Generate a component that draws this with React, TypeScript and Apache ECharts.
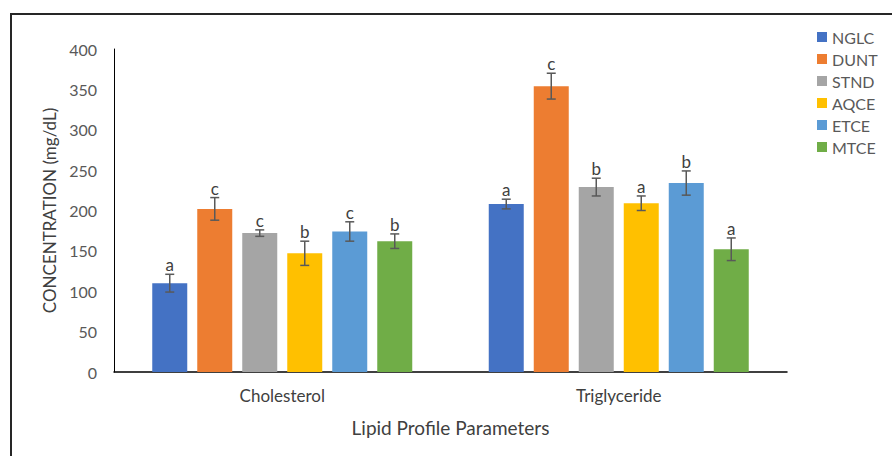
import React, { useEffect, useRef } from "react";
import * as echarts from "echarts";

const categories = ["Cholesterol", "Triglyceride"];
const seriesNames = ["NGLC", "DUNT", "STND", "AQCE", "ETCE", "MTCE"];
const colors = ["#4472C4", "#ED7D31", "#A5A5A5", "#FFC000", "#5B9BD5", "#70AD47"];
const means = [
  [110, 208],
  [202, 354],
  [172, 229],
  [147, 209],
  [174, 234],
  [162, 152],
];
const errors = [
  [11, 6],
  [14, 16],
  [4, 11],
  [15, 9],
  [12, 15],
  [9, 14],
];
const letters = [
  ["a", "a"],
  ["c", "c"],
  ["c", "b"],
  ["b", "a"],
  ["c", "b"],
  ["b", "a"],
];
const yTicks = { min: 0, max: 400, interval: 50 };

const FONT = "Lato, 'Open Sans', sans-serif";
const BAR_W = 35;
const BAR_GAP = 10;

export default function App() {
  const ref = useRef<HTMLDivElement>(null);
  useEffect(() => {
    if (!ref.current) return;
    const chart = echarts.init(ref.current, undefined, { renderer: "svg" });
    const barSeries = seriesNames.map((name, i) => ({
      name,
      type: "bar",
      data: means[i],
      barWidth: BAR_W,
      barGap: (BAR_GAP / BAR_W) * 100 + "%",
      itemStyle: { color: colors[i] },
      z: 2,
    }));
    const errSeries = seriesNames.map((name, i) => ({
      name: "err-" + name,
      type: "custom",
      z: 5,
      data: categories.map((_, c) => [c, means[i][c], errors[i][c]]),
      renderItem: (params: any, api: any) => {
        const c = api.value(0);
        const v = api.value(1);
        const e = api.value(2);
        const letter = letters[i][c];
        const offset = (i - (seriesNames.length - 1) / 2) * (BAR_W + BAR_GAP);
        const x = api.coord([c, v])[0] + offset;
        const yT = api.coord([c, v + e])[1];
        const yB = api.coord([c, v - e])[1];
        const cap = 4.5;
        const ls = { stroke: "#595959", lineWidth: 1.5 };
        return {
          type: "group",
          children: [
            { type: "line", shape: { x1: x, y1: yT, x2: x, y2: yB }, style: ls },
            { type: "line", shape: { x1: x - cap, y1: yT, x2: x + cap, y2: yT }, style: ls },
            { type: "line", shape: { x1: x - cap, y1: yB, x2: x + cap, y2: yB }, style: ls },
            {
              type: "text",
              style: {
                text: letter,
                x,
                y: yT - 1,
                align: "center",
                verticalAlign: "bottom",
                fill: "#404040",
                fontSize: 17,
                fontFamily: FONT,
              },
            },
          ],
        };
      },
    }));
    chart.setOption({
      animation: false,
      backgroundColor: "#ffffff",
      textStyle: { fontFamily: FONT },
      graphic: [
        {
          type: "rect",
          shape: { x: 11, y: 14, width: 900, height: 460 },
          style: { fill: "none", stroke: "#262626", lineWidth: 2 },
          silent: true,
        },
      ],
      legend: {
        orient: "vertical",
        left: 812,
        top: 24,
        itemWidth: 10,
        itemHeight: 10,
        itemGap: 6,
        icon: "rect",
        data: seriesNames,
        textStyle: { color: "#595959", fontSize: 16, fontFamily: FONT, lineHeight: 16 },
      },
      grid: { left: 114, right: 105, top: 49, bottom: 84 },
      xAxis: {
        type: "category",
        data: categories,
        name: "Lipid Profile Parameters",
        nameLocation: "middle",
        nameGap: 46,
        nameTextStyle: { color: "#404040", fontSize: 19, fontFamily: FONT },
        axisLine: { lineStyle: { color: "#000000", width: 1.5 } },
        axisTick: { show: false },
        axisLabel: { color: "#404040", fontSize: 17, margin: 15, fontFamily: FONT },
      },
      yAxis: {
        type: "value",
        min: yTicks.min,
        max: yTicks.max,
        interval: yTicks.interval,
        name: "CONCENTRATION (mg/dL)",
        nameLocation: "middle",
        nameGap: 55,
        nameTextStyle: { color: "#404040", fontSize: 17, fontFamily: FONT },
        axisLine: { show: true, lineStyle: { color: "#000000", width: 1 } },
        axisTick: { show: false },
        splitLine: { show: false },
        axisLabel: { color: "#595959", fontSize: 16, margin: 17, fontFamily: FONT },
      },
      series: [...barSeries, ...errSeries],
    });
    return () => chart.dispose();
  }, []);
  return <div ref={ref} style={{ width: 892, height: 456, position: "absolute", left: 0, top: 0 }} />;
}
